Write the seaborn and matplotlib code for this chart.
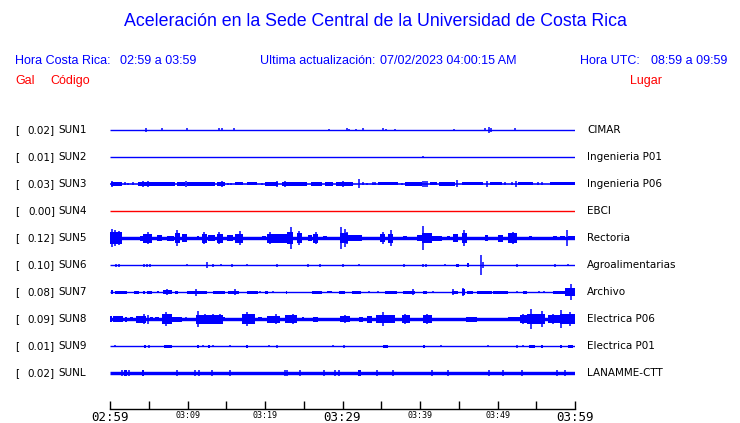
import matplotlib
matplotlib.use("Agg")
import matplotlib.pyplot as plt
import seaborn as sns

# stations, shown top to bottom
stations = ["SUN1", "SUN2", "SUN3", "SUN4", "SUN5", "SUN6", "SUN7", "SUN8", "SUN9", "SUNL"]
places = ["CIMAR", "Ingenieria P01", "Ingenieria P06", "EBCI", "Rectoria",
          "Agroalimentarias", "Archivo", "Electrica P06", "Electrica P01", "LANAMME-CTT"]
peak_gal = [0.02, 0.01, 0.03, 0.00, 0.12, 0.10, 0.08, 0.09, 0.01, 0.02]
trace_colors = ["#0000ff", "#0000ff", "#0000ff", "#ff0000", "#0000ff",
                "#0000ff", "#0000ff", "#0000ff", "#0000ff", "#0000ff"]

# background noise half-width of each trace (px)
noise_amp = [0.6, 0.6, 0.8, 0.6, 1.7, 0.6, 0.7, 1.7, 0.6, 1.7]

# minutes after 02:59 (start, end, half amplitude px)
sun1_bands = []
sun1_spikes = [(4.65, 2), (6.75, 1.5), (9.9, 1.5), (14.1, 1.5), (14.4, 1.5), (16.0, 1.5),
               (28.2, 1), (30.6, 1.5), (30.8, 1), (31.8, 1), (32.65, 1.5), (35.2, 1.5),
               (35.6, 1), (36.8, 1), (44.4, 1), (48.4, 1.5), (48.9, 3), (49.1, 2), (52.2, 1.5)]

sun2_bands = []
sun2_spikes = [(40.4, 1)]

sun3_bands = [(0.09, 1.51, 2), (3.66, 8.39, 2), (8.69, 9.68, 2), (9.98, 13.55, 2),
              (13.76, 14.84, 2), (16.13, 17.2, 1.5), (17.63, 18.92, 1.5), (20.0, 21.72, 2),
              (22.15, 25.38, 2), (25.89, 27.31, 2), (27.74, 28.82, 2), (29.16, 31.4, 2),
              (34.62, 37.2, 1.5), (38.06, 40.22, 2), (41.29, 42.15, 1.5), (42.49, 44.52, 2),
              (45.38, 48.17, 1.5), (49.03, 50.54, 1.5), (52.69, 54.62, 1.5), (56.77, 60, 1.5)]
sun3_spikes = [(0.22, 3), (1.94, 1.5), (2.37, 1), (3.01, 1.5), (4.3, 3), (4.95, 3), (9.81, 3),
               (14.41, 3), (15.27, 1), (15.61, 1), (19.57, 1), (21.51, 3), (22.58, 3),
               (30.11, 3), (32.17, 4.5), (32.69, 1.5), (33.12, 1), (33.89, 1.5), (34.19, 1.5),
               (37.63, 1), (40.43, 3), (40.65, 3), (40.95, 3), (44.73, 3.5), (48.69, 3),
               (50.97, 1.5), (51.83, 1.5), (52.39, 3), (55.27, 1.5), (55.7, 1.5)]

sun4_bands = []
sun4_spikes = []

sun5_bands = [(0.0, 1.5, 6), (3.87, 4.3, 2.5), (4.3, 5.38, 4.5), (6.02, 6.67, 3), (7.31, 8.26, 2.5),
              (8.39, 9.03, 5), (9.25, 9.98, 4), (11.18, 11.48, 2), (11.83, 12.56, 4.5),
              (12.69, 13.55, 3), (13.76, 14.54, 4.5), (15.05, 15.83, 3), (16.13, 17.2, 4.5),
              (19.57, 20.13, 2), (20.22, 22.8, 4.5), (22.8, 23.57, 6), (24.09, 24.73, 5),
              (25.59, 26.02, 3), (26.24, 26.88, 4.5), (27.44, 27.96, 2), (29.68, 30.75, 5),
              (30.75, 32.47, 3), (34.84, 35.48, 4), (35.91, 36.56, 4.5), (37.87, 38.28, 2),
              (39.57, 40.22, 3), (40.22, 41.51, 5), (41.51, 42.8, 2.5), (43.44, 43.87, 2),
              (44.3, 44.95, 4), (45.38, 46.02, 5), (46.67, 47.31, 1.5), (48.39, 48.82, 3),
              (50.11, 50.75, 3.5), (51.4, 52.47, 5), (54.0, 54.41, 2), (55.27, 56.13, 1.5),
              (57.2, 57.63, 2), (58.06, 58.71, 2), (59.14, 60.0, 2)]
sun5_spikes = [(0.2, 9), (0.65, 8), (1.1, 7), (4.95, 6), (8.69, 8), (12.13, 6), (14.11, 6),
               (16.77, 7), (20.65, 6), (23.35, 11), (24.39, 7), (26.58, 6), (29.76, 11),
               (30.3, 9), (30.6, 6), (35.18, 6), (36.22, 8), (40.43, 12), (45.68, 8),
               (52.04, 6), (58.92, 8)]

sun6_bands = [(44.65, 44.99, 1.5), (46.02, 46.28, 2)]
sun6_spikes = [(0.77, 1.5), (1.2, 1.5), (4.43, 1.5), (4.73, 1.5), (5.16, 1.5), (9.89, 1),
               (12.56, 3), (13.25, 1.5), (14.28, 1), (15.7, 1.5), (17.63, 1), (21.51, 1.5),
               (25.51, 1.5), (27.14, 1.5), (30.11, 1.5), (32.17, 1), (37.94, 1.5), (40.43, 1.5),
               (40.77, 1.5), (43.23, 1), (47.83, 10), (48.09, 3), (52.47, 1.5), (57.42, 1.5),
               (59.14, 1)]

sun7_bands = [(0.09, 0.43, 2), (0.65, 2.15, 1.5), (3.1, 3.78, 1.5), (4.22, 4.52, 1.5),
              (4.73, 5.38, 1.5), (6.02, 6.37, 1), (6.88, 7.96, 2), (8.39, 8.82, 1.5),
              (9.89, 12.47, 1.5), (13.25, 14.84, 1.5), (15.27, 16.69, 1.5), (17.63, 19.14, 1.5),
              (20.0, 20.43, 1.5), (22.71, 22.88, 1.5), (26.02, 27.31, 1.5), (27.96, 28.6, 1),
              (29.59, 30.32, 1.5), (31.18, 32.34, 1.5), (35.48, 36.99, 1.5), (37.85, 39.35, 1.5),
              (40.43, 40.95, 1.5), (44.09, 44.95, 1.5), (45.38, 45.81, 3), (46.02, 46.88, 1.5),
              (47.31, 49.25, 1.5), (49.46, 51.4, 1.5), (53.33, 53.85, 1.5), (57.2, 58.71, 1.5),
              (58.71, 60.0, 4)]
sun7_spikes = [(7.31, 3), (11.1, 3.5), (16.13, 3), (19.35, 1), (21.08, 1), (33.46, 1),
               (34.62, 1), (39.14, 3), (41.72, 1), (44.3, 3), (45.59, 4), (52.47, 1),
               (55.4, 1), (56.0, 1), (59.48, 8)]

sun8_bands = [(0.0, 0.22, 3), (0.43, 1.72, 3), (1.94, 2.15, 2.5), (2.58, 3.01, 2), (3.35, 4.65, 3.5),
              (5.16, 5.59, 2), (5.81, 6.37, 2), (6.67, 7.96, 5), (7.96, 9.25, 2.5),
              (11.1, 14.62, 4.5), (14.62, 14.84, 2), (16.13, 16.77, 1.5), (16.99, 18.71, 5),
              (19.14, 19.57, 2), (20.22, 21.94, 3.5), (22.58, 24.09, 4), (24.73, 25.03, 2),
              (26.24, 26.88, 2.5), (29.68, 30.97, 3), (32.17, 32.69, 2.5), (33.12, 33.76, 3.5),
              (34.3, 35.05, 4), (35.05, 36.77, 4), (37.63, 38.71, 4), (40.43, 41.51, 4),
              (42.15, 42.37, 1.5), (45.94, 47.31, 2.5), (51.4, 52.9, 2), (52.9, 53.76, 4),
              (53.76, 55.48, 5), (55.48, 56.13, 5), (56.56, 58.06, 4), (58.06, 58.49, 5),
              (58.49, 60.0, 5)]
sun8_spikes = [(4.39, 5), (4.95, 4.5), (7.23, 7), (9.81, 2), (11.4, 8), (12.26, 5), (13.33, 5),
               (14.19, 5), (17.63, 7), (21.42, 5), (23.66, 5), (30.32, 4), (31.4, 1.5),
               (35.27, 7), (38.06, 5), (40.95, 5), (43.66, 1.5), (44.73, 1.5), (53.25, 5),
               (54.28, 10), (55.7, 8), (57.2, 5), (58.24, 9), (59.35, 7)]

sun9_bands = [(4.43, 4.65, 1.5), (7.01, 7.96, 1.5), (11.18, 11.53, 1.5), (12.69, 12.9, 1.5),
              (17.55, 17.76, 1.5), (35.18, 35.91, 1.5), (40.34, 40.65, 1.5), (54.11, 54.84, 1.5),
              (55.57, 55.83, 1.5), (58.06, 58.28, 1.5), (59.14, 59.78, 1.5)]
sun9_spikes = [(0.65, 1), (5.08, 1.5), (12.04, 1), (13.33, 1), (15.48, 1), (20.56, 1),
               (21.51, 1.5), (28.82, 1), (30.24, 1.5), (42.67, 1), (48.82, 1), (52.47, 1.5),
               (53.25, 1)]

sunl_bands = [(1.85, 2.15, 3), (4.09, 4.39, 3), (32.04, 32.34, 3)]
sunl_spikes = [(1.51, 3), (2.49, 3), (8.6, 3), (10.97, 3), (11.53, 3), (13.12, 3), (15.48, 3),
               (22.58, 3), (22.8, 3), (24.52, 3), (27.61, 3), (29.03, 3), (29.59, 3),
               (34.41, 3), (36.47, 3), (41.51, 3), (43.66, 3), (48.95, 3), (50.67, 3),
               (53.12, 3), (57.63, 3), (58.71, 3)]

all_bands = [sun1_bands, sun2_bands, sun3_bands, sun4_bands, sun5_bands,
             sun6_bands, sun7_bands, sun8_bands, sun9_bands, sunl_bands]
all_spikes = [sun1_spikes, sun2_spikes, sun3_spikes, sun4_spikes, sun5_spikes,
              sun6_spikes, sun7_spikes, sun8_spikes, sun9_spikes, sunl_spikes]

tick_minutes = list(range(0, 61, 5))
tick_labels = ["02:59", "", "03:09", "", "03:19", "", "03:29", "", "03:39", "", "03:49", "", "03:59"]
big_labels = ["02:59", "03:29", "03:59"]

# layout in figure pixels
W, H = 740, 423
ROW_TOP, ROW_GAP = 130, 27

sns.set_theme(style="white")
plt.rcParams["font.family"] = ["DejaVu Sans"]

fig = plt.figure(figsize=(W / 100, H / 100), dpi=100)
fig.patch.set_facecolor("white")


def put(x, y, s, **kw):
    kw.setdefault("va", "center")
    fig.text(x / W, 1 - y / H, s, **kw)


ARIAL = ["Liberation Sans", "DejaVu Sans"]
BLUE, RED = "#0000ff", "#ff0000"

put(375, 22, "Aceleración en la Sede Central de la Universidad de Costa Rica",
    ha="center", color=BLUE, fontsize=12.8, family=ARIAL)
put(15, 61, "Hora Costa Rica:", color=BLUE, fontsize=9, family=ARIAL)
put(120, 61, "02:59 a 03:59", color=BLUE, fontsize=9, family=ARIAL)
put(260, 61, "Ultima actualización:", color=BLUE, fontsize=9, family=ARIAL)
put(380, 61, "07/02/2023 04:00:15 AM", color=BLUE, fontsize=9, family=ARIAL)
put(580, 61, "Hora UTC:", color=BLUE, fontsize=9, family=ARIAL)
put(651, 61, "08:59 a 09:59", color=BLUE, fontsize=9, family=ARIAL)
put(15, 81, "Gal", color=RED, fontsize=9, family=ARIAL)
put(50, 81, "Código", color=RED, fontsize=9, family=ARIAL)
put(630, 81, "Lugar", color=RED, fontsize=9, family=ARIAL)

ax = fig.add_axes([110 / W, 1 - 409 / H, 465 / W, (409 - 115) / H])
ax.set_xlim(0, 60)
ax.set_ylim(409, 115)
ax.set_facecolor("white")

for i, name in enumerate(stations):
    y0 = ROW_TOP + ROW_GAP * i
    col = trace_colors[i]
    ax.hlines(y0, 0, 60, color=col, lw=max(noise_amp[i] * 2 * 0.72, 1.0))
    for t0, t1, a in all_bands[i]:
        ax.fill_between([t0, t1], y0 - a, y0 + a, color=col, lw=0)
    if all_spikes[i]:
        ts = [s[0] for s in all_spikes[i]]
        amps = [s[1] for s in all_spikes[i]]
        ax.vlines(ts, [y0 - a for a in amps], [y0 + a for a in amps], color=col, lw=1.1)

    put(15, y0, "[", fontsize=7.5, color="black")
    put(55, y0, f"{peak_gal[i]:.2f}]", ha="right", fontsize=7.5, color="black")
    put(58.5, y0, name, fontsize=7.5, color="black")
    put(587, y0, places[i], fontsize=7.5, color="black")

ax.set_xticks(tick_minutes)
ax.set_xticklabels(tick_labels)
for lab in ax.get_xticklabels():
    lab.set_family("DejaVu Sans Mono")
    lab.set_fontsize(9 if lab.get_text() in big_labels else 6)
    lab.set_verticalalignment("top")
ax.set_yticks([])
ax.tick_params(axis="x", direction="in", length=5.8, width=1, pad=1.5, colors="black", bottom=True)
sns.despine(ax=ax, left=True)
ax.spines["bottom"].set_color("black")
ax.spines["bottom"].set_linewidth(1)
ax.grid(False)

fig.savefig("out.png", dpi=100, facecolor="white")
plt.close(fig)
